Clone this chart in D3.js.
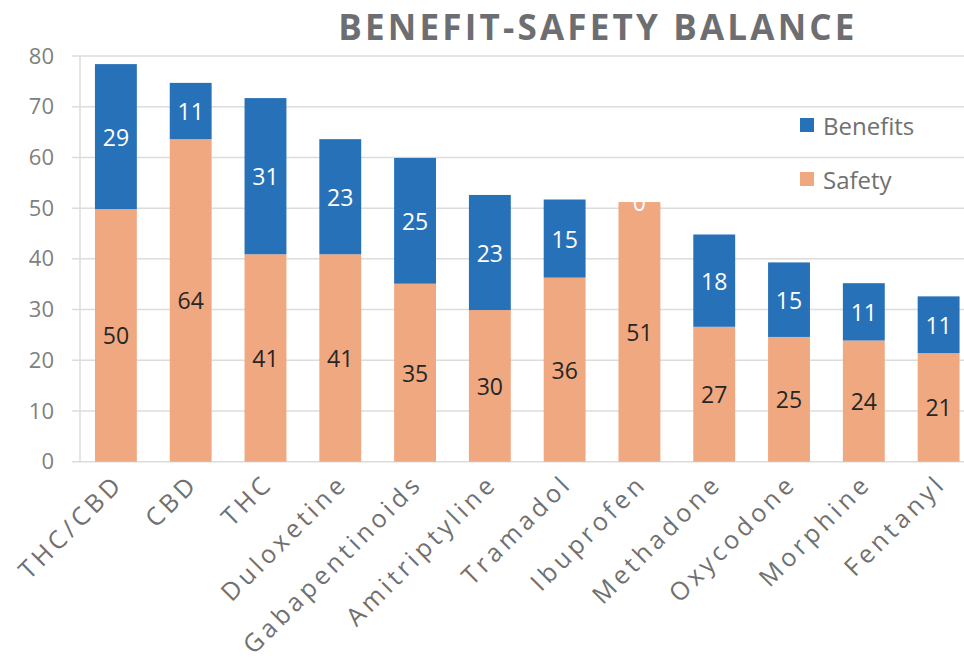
<!DOCTYPE html>
<html>
<head>
<title>Benefit-Safety Balance</title>
<script src="https://d3js.org/d3.v7.min.js"></script>
<style>
body { margin: 0; background: #fff; }
text { font-family: "Open Sans", sans-serif; }
</style>
</head>
<body>
<script>

var categories = ["THC/CBD", "CBD", "THC", "Duloxetine", "Gabapentinoids", "Amitriptyline",
  "Tramadol", "Ibuprofen", "Methadone", "Oxycodone", "Morphine", "Fentanyl"];
var safety   = [49.8, 63.6, 40.9, 40.9, 35.1, 29.9, 36.3, 51.2, 26.6, 24.6, 23.9, 21.4];
var benefits = [28.6, 11.1, 30.8, 22.7, 24.8, 22.7, 15.4, 0, 18.2, 14.7, 11.3, 11.2];
var yTicks = [0, 10, 20, 30, 40, 50, 60, 70, 80];
var seriesNames = ["Benefits", "Safety"];

var blue = "#2771b8", orange = "#f0a880";

var svg = d3.select("body").append("svg")
  .attr("width", 964).attr("height", 660);

var x = d3.scaleBand().domain(categories)
  .range([78.5, 976]).paddingInner(0.44).paddingOuter(0.22);
var y = d3.scaleLinear().domain([0, 80]).range([461.7, 56]);

// gridlines
svg.append("g").selectAll("line").data(yTicks).enter().append("line")
  .attr("x1", 72).attr("x2", 964)
  .attr("y1", function(d){ return y(d); }).attr("y2", function(d){ return y(d); })
  .style("stroke", "#dcdcdc").style("stroke-width", 1.5);
svg.append("line").attr("x1", 80).attr("x2", 80).attr("y1", y(80)).attr("y2", y(0))
  .style("stroke", "#dcdcdc").style("stroke-width", 1.5);

// y axis labels
var yAxis = d3.axisLeft(y).tickValues(yTicks).tickSize(0).tickPadding(0);
var ga = svg.append("g").attr("transform", "translate(54,0)").call(yAxis);
ga.select(".domain").remove();
ga.selectAll("text").style("font-size", "22px").style("fill", "#808080")
  .style("font-family", "'Open Sans', sans-serif");

var rows = categories.map(function(c, i){ return {c: c, s: safety[i], b: benefits[i]}; });

var g = svg.append("g").selectAll("g").data(rows).enter().append("g");

g.append("rect")
  .attr("x", function(d){ return x(d.c); }).attr("width", x.bandwidth())
  .attr("y", function(d){ return y(d.s); })
  .attr("height", function(d){ return y(0) - y(d.s); })
  .style("fill", orange);
g.append("rect")
  .attr("x", function(d){ return x(d.c); }).attr("width", x.bandwidth())
  .attr("y", function(d){ return y(d.s + d.b); })
  .attr("height", function(d){ return y(d.s) - y(d.s + d.b); })
  .style("fill", blue);

g.append("text")
  .attr("x", function(d){ return x(d.c) + x.bandwidth() / 2; })
  .attr("y", function(d){ return y(d.s / 2); })
  .attr("text-anchor", "middle").attr("dominant-baseline", "central")
  .style("font-size", "23px").style("fill", "#262626")
  .text(function(d){ return Math.round(d.s); });
g.append("text")
  .attr("x", function(d){ return x(d.c) + x.bandwidth() / 2; })
  .attr("y", function(d){ return y(d.s + d.b / 2); })
  .attr("text-anchor", "middle").attr("dominant-baseline", "central")
  .style("font-size", "23px").style("fill", "#fff")
  .text(function(d){ return Math.round(d.b); });

// x labels
svg.append("g").selectAll("text").data(categories).enter().append("text")
  .attr("transform", function(d){
    return "translate(" + (x(d) + x.bandwidth() / 2 + 9) + "," + 485 + ") rotate(-45)";
  })
  .attr("text-anchor", "end")
  .style("font-size", "25px").style("fill", "#707070").style("letter-spacing", "4px")
  .text(function(d){ return d; });

// title
svg.append("text").attr("x", 598).attr("y", 40).attr("text-anchor", "middle")
  .style("font-size", "35px").style("font-weight", "bold").style("fill", "#6d6e71")
  .style("letter-spacing", "3.2px")
  .text("BENEFIT-SAFETY BALANCE");

// legend
var leg = svg.append("g").selectAll("g").data(seriesNames).enter().append("g")
  .attr("transform", function(d, i){ return "translate(800," + (118 + i * 54) + ")"; });
leg.append("rect").attr("width", 14).attr("height", 14)
  .style("fill", function(d, i){ return i == 0 ? blue : orange; });
leg.append("text").attr("x", 23).attr("y", 7).attr("dominant-baseline", "central")
  .style("font-size", "24px").style("fill", "#707070")
  .text(function(d){ return d; });

</script>
</body>
</html>
